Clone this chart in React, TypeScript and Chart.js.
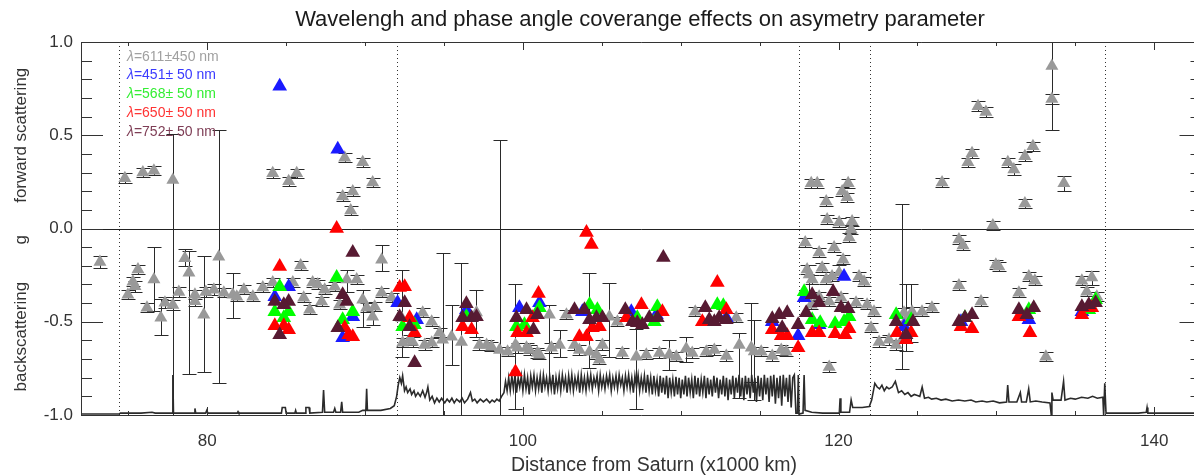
import React, { useEffect, useRef } from 'react';
import { Chart, registerables } from 'chart.js';

Chart.register(...registerables);

const FONT = "'Liberation Sans', Arial, Helvetica, sans-serif";

const titleText = 'Wavelengh and phase angle coverange effects on asymetry parameter';
const xTitleText = 'Distance from Saturn (x1000 km)';
const xTickValues = [80, 100, 120, 140];
const yTickValues = [-1.0, -0.5, 0.0, 0.5, 1.0];
const boundaryLines = [74.4, 92.0, 117.5, 122.0, 136.9];
const legendLabels = ['=611\u00b1450 nm', '=451\u00b1 50 nm', '=568\u00b1 50 nm', '=650\u00b1 50 nm', '=752\u00b1 50 nm'];
const legendColors = ['#a0a0a0', '#3a3aff', '#33ee33', '#ff3333', '#7e3d55'];

// grey: lambda = 611 +/- 450 nm  (x, g, error up, error down)
const greyX = [73.20, 74.78, 75.92, 76.62, 77.82, 74.97, 75.29, 75.42, 75.61, 76.18, 76.62, 77.06, 77.32, 77.82, 78.20, 78.58, 78.84, 79.22, 79.22, 79.78,
  79.91, 80.42, 80.73, 81.05, 81.62, 81.87, 82.32, 82.89, 83.52, 84.15, 84.15, 85.16, 85.67, 85.42, 85.92, 86.11, 86.49, 86.68, 87.00, 87.25,
  87.44, 88.08, 88.39, 88.71, 89.85, 90.48, 88.58, 89.22, 89.09, 88.84, 89.47, 89.85, 90.10, 90.48, 90.61, 91.05, 91.05, 91.68, 92.38, 92.82,
  92.32, 93.01, 93.65, 93.77, 94.22, 94.22, 94.72, 94.91, 95.48, 96.11, 97.06, 97.25, 97.70, 98.01, 98.52, 99.03, 99.53, 99.66, 100.23, 100.42,
  100.92, 101.05, 101.68, 101.81, 102.32, 102.76, 103.58, 104.22, 104.66, 105.48, 105.99, 106.30, 107.19, 107.82, 108.65, 109.28, 109.72, 110.35, 110.73, 110.92,
  111.62, 112.13, 112.89, 113.52, 113.71, 114.47, 114.66, 115.10, 115.80, 116.37, 116.68, 103.27, 105.04, 104.85, 118.27, 118.65, 119.22, 120.23, 120.61, 120.54,
  119.28, 120.04, 120.86, 120.80, 120.67, 117.89, 118.77, 119.72, 120.29, 118.01, 118.96, 118.33, 119.22, 119.59, 120.04, 118.77, 118.27, 119.41, 120.16, 121.11,
  121.81, 122.25, 121.30, 121.62, 122.06, 119.41, 118.14, 122.57, 123.20, 123.65, 124.03, 124.28, 124.60, 124.15, 124.66, 125.29, 125.92, 126.56, 127.63, 127.89,
  127.63, 129.03, 129.78, 129.97, 131.43, 128.20, 128.46, 128.84, 129.34, 130.73, 131.11, 131.81, 132.32, 131.81, 133.52, 133.52, 134.28, 132.06, 132.44, 133.14,
  135.42, 136.05, 135.73, 136.37, 130.16];
const greyY = [-0.18, 0.27, 0.30, 0.31, 0.26, -0.355, -0.285, -0.31, -0.22, -0.425, -0.274, -0.478, -0.398, -0.41, -0.34, -0.16, -0.237, -0.355, -0.39, -0.462,
  -0.34, -0.328, -0.151, -0.344, -0.355, -0.366, -0.328, -0.366, -0.317, -0.29, 0.296, 0.253, 0.296, -0.29, -0.199, -0.371, -0.435, -0.29, -0.30, -0.392,
  -0.328, -0.312, -0.409, 0.38, 0.355, 0.247, 0.172, 0.199, 0.097, -0.274, -0.274, -0.382, -0.425, -0.473, -0.419, -0.167, -0.344, -0.371, -0.613, -0.597,
  -0.48, -0.608, -0.452, -0.624, -0.50, -0.613, -0.559, -0.597, -0.581, -0.608, -0.45, -0.624, -0.624, -0.634, -0.651, -0.661, -0.624, -0.64, -0.64, -0.651,
  -0.667, -0.677, -0.462, -0.64, -0.624, -0.462, -0.651, -0.661, -0.677, -0.473, -0.50, -0.667, -0.688, -0.677, -0.667, -0.677, -0.688, -0.645, -0.667, -0.446,
  -0.661, -0.651, -0.683, -0.478, -0.624, -0.64, -0.66, -0.661, -0.683, -0.651, -0.661, -0.624, -0.624, -0.704, 0.242, 0.242, 0.145, 0.199, 0.242, 0.167,
  0.048, 0.032, 0.038, -0.005, -0.048, -0.075, -0.129, -0.102, -0.167, -0.22, -0.21, -0.274, -0.274, -0.258, -0.237, -0.366, -0.409, -0.392, -0.371, -0.398,
  -0.409, -0.446, -0.258, -0.285, -0.532, -0.742, -0.247, -0.608, -0.597, -0.624, -0.597, -0.489, -0.478, -0.452, -0.446, -0.446, -0.425, 0.247, -0.059, -0.091,
  -0.306, -0.392, 0.016, -0.194, -0.344, 0.355, 0.403, 0.656, 0.624, 0.355, 0.317, 0.387, 0.441, 0.134, 0.871, 0.694, 0.242, -0.258, -0.28, -0.688,
  -0.28, -0.263, -0.339, -0.366, -0.204];
const greyErrUp = [0.03, 0.025, 0.025, 0.025, 0.245, 0.025, 0.025, 0.03, 0.025, 0.025, 0.174, 0.098, 0.03, 0.025, 0.025, 0.05, 0.117, 0.025, 0.025, 0.312,
  0.025, 0.03, 0.681, 0.025, 0.118, 0.025, 0.025, 0.025, 0.025, 0.025, 0.025, 0.025, 0.025, 0.025, 0.025, 0.025, 0.025, 0.025, 0.025, 0.025,
  0.025, 0.025, 0.025, 0.025, 0.025, 0.025, 0.025, 0.025, 0.025, 0.054, 0.025, 0.05, 0.025, 0.033, 0.025, 0.077, 0.025, 0.025, 0.025, 0.025,
  0.26, 0.025, 0.025, 0.025, 0.025, 0.025, 0.025, 0.468, 0.171, 0.425, 0.122, 0.025, 0.025, 0.025, 1.124, 0.025, 0.324, 0.025, 0.025, 0.025,
  0.025, 0.025, 0.052, 0.025, 0.081, 0.025, 0.025, 0.424, 0.025, 0.183, 0.025, 0.025, 0.148, 0.025, 0.025, 0.08, 0.025, 0.065, 0.025, 0.025,
  0.025, 0.025, 0.025, 0.025, 0.064, 0.24, 0.171, 0.025, 0.025, 0.025, 0.025, 0.025, 0.025, 0.025, 0.025, 0.025, 0.025, 0.025, 0.025, 0.025,
  0.025, 0.025, 0.025, 0.025, 0.025, 0.025, 0.025, 0.025, 0.025, 0.025, 0.025, 0.025, 0.025, 0.025, 0.04, 0.025, 0.025, 0.025, 0.025, 0.025,
  0.025, 0.025, 0.025, 0.025, 0.025, 0.025, 0.05, 0.025, 0.025, 0.025, 0.726, 0.19, 0.18, 0.025, 0.025, 0.025, 0.025, 0.025, 0.025, 0.025,
  0.025, 0.025, 0.025, 0.025, 0.025, 0.025, 0.025, 0.025, 0.025, 0.025, 0.03, 0.025, 0.025, 0.025, 0.129, 0.025, 0.04, 0.025, 0.025, 0.025,
  0.025, 0.035, 0.025, 0.025, 0.025];
const greyErrDown = [0.03, 0.025, 0.025, 0.025, 1.26, 0.025, 0.025, 0.03, 0.025, 0.025, 0.166, 0.092, 0.03, 0.025, 0.025, 0.04, 0.543, 0.025, 0.025, 0.308,
  0.025, 0.03, 0.679, 0.025, 0.125, 0.025, 0.025, 0.025, 0.025, 0.025, 0.025, 0.025, 0.025, 0.025, 0.025, 0.025, 0.025, 0.025, 0.025, 0.025,
  0.025, 0.025, 0.025, 0.025, 0.025, 0.025, 0.025, 0.025, 0.025, 0.066, 0.025, 0.148, 0.025, 0.047, 0.025, 0.063, 0.025, 0.025, 0.025, 0.025,
  0.21, 0.025, 0.025, 0.025, 0.025, 0.025, 0.025, 0.403, 0.149, 0.392, 0.131, 0.025, 0.025, 0.025, 0.349, 0.025, 0.346, 0.025, 0.025, 0.025,
  0.025, 0.025, 0.368, 0.025, 0.064, 0.025, 0.025, 0.089, 0.025, 0.217, 0.025, 0.025, 0.282, 0.025, 0.025, 0.081, 0.025, 0.07, 0.025, 0.025,
  0.025, 0.025, 0.025, 0.025, 0.286, 0.185, 0.259, 0.025, 0.025, 0.025, 0.025, 0.025, 0.025, 0.025, 0.025, 0.025, 0.025, 0.025, 0.025, 0.025,
  0.025, 0.025, 0.025, 0.025, 0.025, 0.025, 0.025, 0.025, 0.025, 0.025, 0.025, 0.025, 0.025, 0.025, 0.025, 0.025, 0.025, 0.025, 0.025, 0.025,
  0.025, 0.025, 0.025, 0.025, 0.025, 0.025, 0.1, 0.025, 0.025, 0.025, 0.156, 0.17, 0.13, 0.025, 0.025, 0.025, 0.025, 0.025, 0.025, 0.025,
  0.025, 0.025, 0.025, 0.025, 0.025, 0.025, 0.025, 0.025, 0.025, 0.025, 0.03, 0.025, 0.025, 0.025, 0.341, 0.025, 0.04, 0.025, 0.025, 0.025,
  0.025, 0.04, 0.025, 0.025, 0.025];

// blue: lambda = 451 +/- 50 nm
const blueX = [84.59, 88.27, 85.16, 84.28, 89.22, 88.58, 92.06, 99.78, 101.05, 106.87, 115.80, 117.44, 120.35, 117.82, 118.77, 124.15, 132.06, 135.42, 103.77, 96.42,
  127.76, 112.89, 93.27, 108.46];
const blueY = [0.763, 0.425, -0.312, -0.366, -0.473, -0.586, -0.398, -0.425, -0.398, -0.446, -0.5, -0.575, -0.258, -0.371, -0.516, -0.527, -0.489, -0.446, -0.446, -0.435,
  -0.5, -0.478, -0.489, -0.462];

// green: lambda = 568 +/- 50 nm
const greenX = [84.59, 84.28, 85.16, 84.85, 88.20, 89.22, 88.58, 92.38, 93.14, 96.42, 99.59, 100.10, 101.05, 104.22, 104.72, 108.52, 108.33, 112.32, 112.70, 117.82,
  118.33, 118.84, 119.78, 120.67, 120.35, 123.65, 124.60, 128.01, 132.06, 136.29, 135.86, 107.25];
const greenY = [-0.312, -0.446, -0.446, -0.478, -0.263, -0.446, -0.489, -0.527, -0.516, -0.473, -0.527, -0.516, -0.425, -0.409, -0.435, -0.419, -0.5, -0.409, -0.414, -0.339,
  -0.489, -0.505, -0.511, -0.473, -0.5, -0.462, -0.489, -0.478, -0.435, -0.382, -0.435, -0.478];

// red: lambda = 650 +/- 50 nm
const redX = [88.20, 84.59, 84.28, 84.85, 85.16, 88.71, 88.96, 89.22, 92.19, 92.51, 92.82, 93.14, 96.18, 96.75, 100.99, 99.66, 100.23, 100.61, 99.53, 104.03,
  104.34, 103.58, 104.03, 104.41, 104.85, 106.56, 107.51, 108.84, 112.32, 111.37, 112.89, 115.80, 116.37, 116.75, 117.44, 118.33, 118.77, 119.78, 120.42, 120.67,
  123.71, 124.28, 124.60, 127.76, 128.46, 131.43, 132.13, 135.42, 136.05];
const redY = [0.0, -0.204, -0.522, -0.522, -0.543, -0.532, -0.57, -0.581, -0.317, -0.312, -0.478, -0.559, -0.527, -0.543, -0.349, -0.559, -0.559, -0.478, -0.769, -0.022,
  -0.086, -0.581, -0.581, -0.532, -0.527, -0.478, -0.409, -0.446, -0.29, -0.5, -0.435, -0.543, -0.575, -0.575, -0.64, -0.559, -0.559, -0.565, -0.57, -0.538,
  -0.559, -0.597, -0.559, -0.527, -0.538, -0.473, -0.559, -0.462, -0.425];

// maroon: lambda = 752 +/- 50 nm
const maroonX = [89.22, 84.28, 85.16, 84.85, 84.59, 88.58, 88.84, 88.27, 92.51, 92.19, 92.82, 93.14, 96.42, 96.18, 96.75, 97.06, 99.59, 100.23, 100.67, 100.92,
  103.27, 103.90, 104.22, 104.66, 105.04, 108.90, 106.49, 106.94, 107.25, 107.57, 108.01, 108.52, 111.56, 111.81, 112.13, 112.44, 112.89, 115.80, 116.24, 116.75,
  116.43, 117.44, 119.66, 118.77, 118.33, 117.95, 120.16, 120.61, 123.65, 124.28, 124.72, 127.63, 128.01, 128.46, 131.43, 132.37, 131.93, 135.42, 135.86, 136.29];
const maroonY = [-0.129, -0.392, -0.392, -0.409, -0.57, -0.355, -0.392, -0.532, -0.398, -0.473, -0.527, -0.72, -0.403, -0.478, -0.478, -0.473, -0.478, -0.435, -0.543, -0.462,
  -0.435, -0.435, -0.489, -0.478, -0.478, -0.156, -0.435, -0.5, -0.505, -0.516, -0.478, -0.478, -0.425, -0.489, -0.5, -0.478, -0.489, -0.484, -0.462, -0.452,
  -0.532, -0.516, -0.339, -0.398, -0.355, -0.452, -0.425, -0.43, -0.5, -0.57, -0.5, -0.5, -0.478, -0.462, -0.435, -0.425, -0.462, -0.419, -0.409, -0.398];

// black profile along the track, [distance, level]
const profilePoints: number[][] = [
  [72.0, -0.995], [74.4, -0.995], [74.5, -0.99], [75.8, -0.99], [76.5, -0.985], [76.7, -0.99], [77.78, -0.99], [77.82, -0.785], [77.86, -0.99],
  [79.17, -0.99], [79.22, -0.965], [79.27, -0.99], [79.9, -0.99], [79.97, -0.975], [80.04, -0.99], [81.9, -0.99], [81.95, -0.982], [82.0, -0.99],
  [84.7, -0.99], [84.75, -0.96], [84.95, -0.96], [85.0, -0.99], [85.55, -0.99], [85.6, -0.975], [85.65, -0.99], [86.2, -0.99], [86.25, -0.96],
  [86.45, -0.96], [86.5, -0.99], [87.3, -0.985], [87.37, -0.866], [87.44, -0.985], [88.0, -0.985], [88.08, -0.965], [88.15, -0.985], [88.45, -0.985],
  [88.52, -0.93], [88.58, -0.985], [89.6, -0.985], [89.85, -0.975], [90.05, -0.975], [90.1, -0.86], [90.15, -0.975], [91.0, -0.975], [91.6, -0.965],
  [91.85, -0.95], [92.0, -0.9], [92.1, -0.84], [92.2, -0.80], [92.3, -0.83], [92.38, -0.79], [92.5, -0.87], [92.6, -0.85], [92.7, -0.88],
  [92.85, -0.86], [92.95, -0.89], [93.1, -0.87], [93.2, -0.9], [93.35, -0.88], [93.5, -0.9], [93.65, -0.87], [93.8, -0.905], [93.9, -0.88],
  [93.98, -0.85], [94.1, -0.92], [94.25, -0.9], [94.4, -0.935], [94.55, -0.91], [94.7, -0.93], [94.85, -0.91], [95.05, -0.935], [95.2, -0.915],
  [95.35, -0.93], [95.5, -0.91], [95.65, -0.935], [95.8, -0.915], [96.0, -0.93], [96.15, -0.91], [96.3, -0.935], [96.5, -0.915], [96.68, -0.88],
  [96.8, -0.925], [96.95, -0.915], [97.1, -0.935], [97.3, -0.915], [97.5, -0.93], [97.7, -0.915], [97.9, -0.935], [98.05, -0.92], [98.2, -0.93],
  [98.35, -0.915], [98.5, -0.925], [98.65, -0.9], [98.8, -0.88], [98.9, -0.82], [99.0, -0.87],
  [99.1, -0.80], [99.2, -0.87], [99.3, -0.79], [99.4, -0.86], [99.5, -0.785], [99.6, -0.88], [99.7, -0.80], [99.8, -0.85], [99.9, -0.79], [100.0, -0.87],
  [100.1, -0.785], [100.2, -0.86], [100.3, -0.80], [100.4, -0.89], [100.5, -0.79], [100.6, -0.85], [100.7, -0.785], [100.8, -0.87], [100.9, -0.80], [101.0, -0.86],
  [101.1, -0.79], [101.2, -0.88], [101.3, -0.785], [101.4, -0.85], [101.5, -0.80], [101.6, -0.87], [101.7, -0.79], [101.8, -0.86], [101.9, -0.785], [102.0, -0.89],
  [102.1, -0.80], [102.2, -0.86], [102.3, -0.79], [102.4, -0.87], [102.5, -0.785], [102.6, -0.85], [102.7, -0.80], [102.8, -0.88], [102.9, -0.79], [103.0, -0.86],
  [103.1, -0.785], [103.2, -0.87], [103.3, -0.80], [103.4, -0.85], [103.5, -0.79], [103.6, -0.88], [103.7, -0.785], [103.8, -0.86], [103.9, -0.80], [104.0, -0.87],
  [104.1, -0.79], [104.2, -0.85], [104.3, -0.785], [104.4, -0.86], [104.5, -0.80], [104.6, -0.84], [104.7, -0.79], [104.8, -0.87], [104.9, -0.785], [105.0, -0.85],
  [105.1, -0.80], [105.2, -0.86], [105.3, -0.79], [105.4, -0.84], [105.5, -0.785], [105.6, -0.87], [105.7, -0.80], [105.8, -0.85], [105.9, -0.79], [106.0, -0.86],
  [106.1, -0.785], [106.2, -0.84], [106.3, -0.80], [106.4, -0.87], [106.5, -0.79], [106.6, -0.85], [106.7, -0.785], [106.8, -0.86], [106.9, -0.80], [107.0, -0.88],
  [107.1, -0.79], [107.2, -0.85], [107.3, -0.785], [107.4, -0.87], [107.5, -0.80], [107.6, -0.86], [107.7, -0.79], [107.8, -0.88], [107.9, -0.785], [108.0, -0.87],
  [108.1, -0.80], [108.2, -0.89], [108.3, -0.79], [108.4, -0.87], [108.5, -0.81], [108.6, -0.90], [108.7, -0.79], [108.8, -0.88], [108.9, -0.80], [109.0, -0.89],
  [109.1, -0.79], [109.2, -0.91], [109.3, -0.80], [109.4, -0.88], [109.5, -0.81], [109.6, -0.90], [109.7, -0.795], [109.8, -0.89], [109.9, -0.80], [110.0, -0.91],
  [110.1, -0.81], [110.2, -0.89], [110.3, -0.79], [110.4, -0.90], [110.5, -0.80], [110.6, -0.88], [110.7, -0.81], [110.8, -0.91], [110.9, -0.79], [111.0, -0.89],
  [111.1, -0.80], [111.2, -0.90], [111.3, -0.81], [111.4, -0.88], [111.5, -0.79], [111.6, -0.91], [111.7, -0.80], [111.8, -0.89], [111.9, -0.81], [112.0, -0.90],
  [112.1, -0.79], [112.2, -0.88], [112.3, -0.80], [112.4, -0.91], [112.5, -0.81], [112.6, -0.89], [112.7, -0.79], [112.8, -0.90], [112.9, -0.80], [113.0, -0.92],
  [113.1, -0.81], [113.2, -0.89], [113.3, -0.79], [113.4, -0.91], [113.5, -0.80], [113.6, -0.88], [113.7, -0.785], [113.8, -0.90], [113.9, -0.80], [114.0, -0.92],
  [114.1, -0.79], [114.2, -0.89], [114.3, -0.80], [114.4, -0.91], [114.5, -0.785], [114.6, -0.88], [114.7, -0.80], [114.8, -0.93], [114.9, -0.79], [115.0, -0.90],
  [115.1, -0.80], [115.2, -0.92], [115.3, -0.785], [115.4, -0.89], [115.5, -0.80], [115.6, -0.93], [115.7, -0.79], [115.8, -0.90], [115.9, -0.785], [116.0, -0.94],
  [116.1, -0.80], [116.2, -0.91], [116.3, -0.79], [116.4, -0.95], [116.5, -0.785], [116.6, -0.90], [116.7, -0.80], [116.8, -0.93], [116.9, -0.785], [117.0, -0.96],
  [117.1, -0.80], [117.2, -0.785], [117.3, -0.99], [117.4, -0.99], [117.45, -0.785], [117.5, -0.995], [117.75, -0.99], [117.82, -0.785], [117.88, -0.975],
  [118.3, -0.985], [119.0, -0.99], [120.05, -0.99], [120.1, -0.91], [120.15, -0.985], [120.7, -0.985], [120.8, -0.92], [120.9, -0.96], [121.5, -0.96],
  [121.95, -0.955], [122.1, -0.92], [122.3, -0.83], [122.45, -0.85], [122.6, -0.86], [122.75, -0.84], [122.9, -0.87], [123.05, -0.85], [123.2, -0.86],
  [123.4, -0.85], [123.6, -0.82], [123.8, -0.88], [124.0, -0.87], [124.2, -0.89], [124.4, -0.88], [124.6, -0.9], [124.8, -0.89], [125.0, -0.895],
  [125.15, -0.9], [125.3, -0.85], [125.45, -0.91], [125.7, -0.905], [125.9, -0.915], [126.2, -0.91], [126.5, -0.92], [126.8, -0.915], [127.2, -0.925],
  [127.6, -0.92], [128.0, -0.925], [128.4, -0.92], [128.7, -0.93], [129.1, -0.925], [129.4, -0.93], [129.8, -0.925], [130.2, -0.935], [130.65, -0.93],
  [130.72, -0.84], [130.8, -0.93], [131.3, -0.93], [131.52, -0.88], [131.6, -0.93], [131.9, -0.93], [132.05, -0.86], [132.15, -0.93], [132.5, -0.925],
  [132.9, -0.93], [133.4, -0.935], [133.48, -1.0], [133.52, -0.88], [133.6, -0.92], [134.1, -0.92], [134.26, -0.82], [134.35, -0.92], [134.7, -0.91],
  [135.0, -0.915], [135.4, -0.905], [135.8, -0.91], [136.1, -0.9], [136.4, -0.91], [136.75, -0.905], [136.8, -1.0], [136.87, -0.83], [136.95, -0.99],
  [139.0, -0.99], [139.5, -0.985], [139.55, -0.96], [139.6, -0.99], [143.0, -0.99],
];

const pts = (xs: number[], ys: number[]) => xs.map((x, i) => ({ x, y: ys[i] }));

const GREY_INDEX = 1;

const errorBarPlugin = {
  id: 'errorBars',
  beforeDatasetDraw(chart: any, args: any) {
    if (args.index !== GREY_INDEX) return;
    const { ctx, chartArea: a, scales } = chart;
    const xs = scales.x, ys = scales.y;
    ctx.save();
    ctx.beginPath();
    ctx.rect(a.left, a.top, a.right - a.left, a.bottom - a.top);
    ctx.clip();
    ctx.strokeStyle = '#2a2a2a';
    ctx.lineWidth = 1;
    for (let i = 0; i < greyX.length; i++) {
      const px = Math.round(xs.getPixelForValue(greyX[i])) + 0.5;
      const top = Math.round(ys.getPixelForValue(greyY[i] + greyErrUp[i])) + 0.5;
      const bot = Math.round(ys.getPixelForValue(greyY[i] - greyErrDown[i])) + 0.5;
      ctx.beginPath();
      ctx.moveTo(px, top);
      ctx.lineTo(px, bot);
      ctx.moveTo(px - 7, top);
      ctx.lineTo(px + 7, top);
      ctx.moveTo(px - 7, bot);
      ctx.lineTo(px + 7, bot);
      ctx.stroke();
    }
    ctx.restore();
  },
};

const decorPlugin = {
  id: 'decor',
  beforeDatasetsDraw(chart: any) {
    const { ctx, chartArea: a, scales } = chart;
    const xs = scales.x, ys = scales.y;
    ctx.save();
    ctx.strokeStyle = '#333';
    ctx.lineWidth = 1;
    ctx.setLineDash([1, 3]);
    boundaryLines.forEach((v) => {
      const px = Math.round(xs.getPixelForValue(v)) + 0.5;
      ctx.beginPath();
      ctx.moveTo(px, a.top);
      ctx.lineTo(px, a.bottom);
      ctx.stroke();
    });
    ctx.setLineDash([]);
    const y0 = Math.round(ys.getPixelForValue(0)) + 0.5;
    ctx.strokeStyle = '#222';
    ctx.beginPath();
    ctx.moveTo(a.left, y0);
    ctx.lineTo(a.right, y0);
    ctx.stroke();
    ctx.restore();
  },
  afterDraw(chart: any) {
    const { ctx, chartArea: a, scales } = chart;
    const xs = scales.x, ys = scales.y;
    ctx.save();
    ctx.strokeStyle = '#333';
    ctx.lineWidth = 1;
    ctx.beginPath();
    ctx.moveTo(a.left + 0.5, a.bottom + 0.5);
    ctx.lineTo(a.left + 0.5, a.top + 0.5);
    ctx.lineTo(a.right - 0.5, a.top + 0.5);
    ctx.lineTo(a.right - 0.5, a.bottom + 0.5);
    ctx.lineTo(a.left + 0.5, a.bottom + 0.5);
    ctx.stroke();
    for (let k = -10; k <= 10; k++) {
      const py = Math.round(ys.getPixelForValue(k / 10)) + 0.5;
      const len = k % 5 === 0 ? 22 : 11;
      ctx.beginPath();
      ctx.moveTo(a.left, py);
      ctx.lineTo(a.left + len, py);
      ctx.moveTo(a.right, py);
      ctx.lineTo(a.right - len, py);
      ctx.stroke();
    }
    for (let v = 75; v <= 140; v += 5) {
      const px = Math.round(xs.getPixelForValue(v)) + 0.5;
      const len = v % 20 === 0 ? 8 : 4;
      ctx.beginPath();
      ctx.moveTo(px, a.top);
      ctx.lineTo(px, a.top + len);
      ctx.moveTo(px, a.bottom);
      ctx.lineTo(px, a.bottom - len);
      ctx.stroke();
    }
    ctx.fillStyle = '#1a1a1a';
    ctx.textAlign = 'center';
    ctx.textBaseline = 'middle';
    ctx.font = `22px ${FONT}`;
    ctx.fillText(titleText, 640, 20);
    ctx.font = `19.5px ${FONT}`;
    ctx.fillStyle = '#333';
    ctx.fillText(xTitleText, 654, 466);
    ctx.font = `17px ${FONT}`;
    const vtext = (t: string, cy: number) => {
      ctx.save();
      ctx.translate(21, cy);
      ctx.rotate(-Math.PI / 2);
      ctx.fillText(t, 0, 0);
      ctx.restore();
    };
    vtext('forward scattering', ys.getPixelForValue(0.5));
    vtext('g', ys.getPixelForValue(-0.06));
    vtext('backscattering', ys.getPixelForValue(-0.58));
    ctx.textAlign = 'left';
    ctx.textBaseline = 'middle';
    const legendY = [57, 75, 94, 113, 132];
    legendLabels.forEach((lab, i) => {
      ctx.fillStyle = legendColors[i];
      ctx.font = `italic 14px ${FONT}`;
      ctx.fillText('\u03bb', 127, legendY[i]);
      const w = ctx.measureText('\u03bb').width;
      ctx.font = `14px ${FONT}`;
      ctx.fillText(lab, 127 + w, legendY[i]);
    });
    ctx.restore();
  },
};

export default function App() {
  const ref = useRef<HTMLCanvasElement | null>(null);
  useEffect(() => {
    document.body.style.margin = '0';
    const canvas = ref.current;
    if (!canvas) return;
    const tri = (color: string, r: number, order: number, xs: number[], ys: number[], label: string) => ({
      label,
      data: pts(xs, ys),
      pointStyle: 'triangle',
      pointRadius: r,
      backgroundColor: color,
      borderColor: color,
      borderWidth: 0,
      showLine: false,
      order,
    });
    const chart = new Chart(canvas, {
      type: 'scatter',
      data: {
        datasets: [
          {
            label: 'profile',
            data: profilePoints.map((p) => ({ x: p[0], y: p[1] })),
            showLine: true,
            borderColor: '#2b2b2b',
            borderWidth: 1.6,
            pointRadius: 0,
            tension: 0,
            order: 10,
          } as any,
          tri('#999999', 7.5, 5, greyX, greyY, '\u03bb=611\u00b1450 nm'),
          tri('#1a1aff', 8.5, 4, blueX, blueY, '\u03bb=451\u00b1 50 nm'),
          tri('#00ff00', 8.5, 3, greenX, greenY, '\u03bb=568\u00b1 50 nm'),
          tri('#ff0000', 8.5, 2, redX, redY, '\u03bb=650\u00b1 50 nm'),
          tri('#571a32', 8.5, 1, maroonX, maroonY, '\u03bb=752\u00b1 50 nm'),
        ],
      },
      options: {
        responsive: false,
        animation: false,
        devicePixelRatio: 1,
        layout: { padding: { top: 42, right: 8, bottom: 0, left: 0 } },
        plugins: {
          legend: { display: false },
          tooltip: { enabled: false },
          title: { display: false },
        },
        scales: {
          x: {
            type: 'linear',
            min: 72,
            max: 143,
            grid: { display: false, drawTicks: false },
            border: { display: false },
            ticks: { font: { family: FONT, size: 17 }, color: '#333', padding: 16, maxRotation: 0 },
            afterBuildTicks: (s: any) => { s.ticks = xTickValues.map((v) => ({ value: v })); },
            afterFit: (s: any) => { s.height = 60; s.paddingLeft = 0; s.paddingRight = 0; },
          },
          y: {
            type: 'linear',
            min: -1,
            max: 1,
            grid: { display: false, drawTicks: false },
            border: { display: false },
            ticks: {
              font: { family: FONT, size: 17 },
              color: '#333',
              padding: 8,
              callback: (v: any) => Number(v).toFixed(1),
            },
            afterBuildTicks: (s: any) => { s.ticks = yTickValues.map((v) => ({ value: v })); },
            afterFit: (s: any) => { s.width = 81; s.paddingTop = 0; s.paddingBottom = 0; },
          },
        },
      } as any,
      plugins: [errorBarPlugin, decorPlugin],
    });
    return () => chart.destroy();
  }, []);
  return (
    <div style={{ width: 1194, height: 475, overflow: 'hidden', background: '#fff' }}>
      <canvas ref={ref} width={1210} height={475} style={{ display: 'block' }} />
    </div>
  );
}
